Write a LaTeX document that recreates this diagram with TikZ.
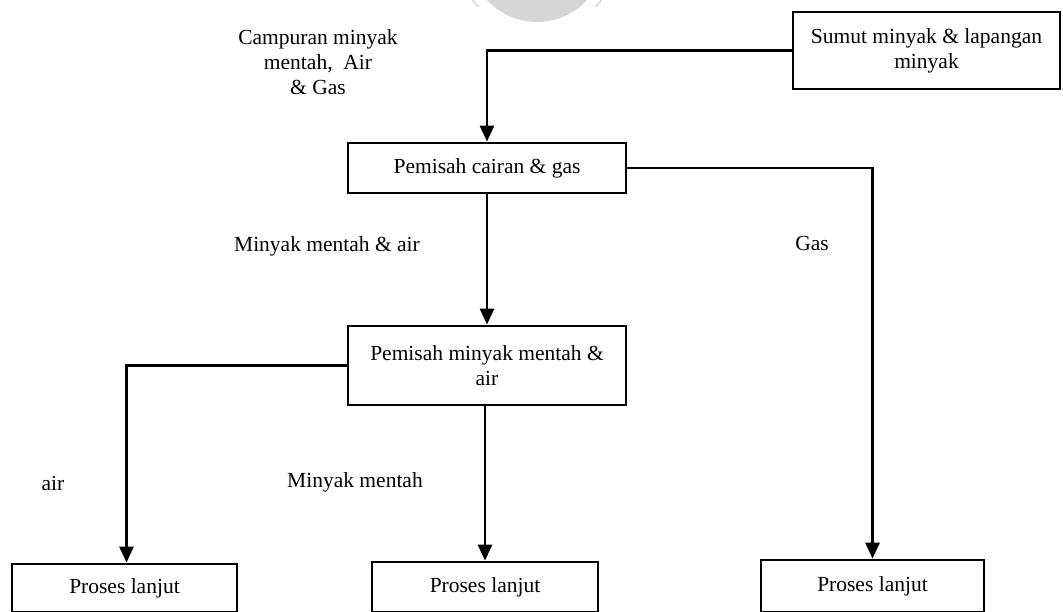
\documentclass[tikz,border=0pt]{standalone}
\usepackage{fontspec}
\setmainfont{Liberation Serif}
\usetikzlibrary{arrows.meta}
\begin{document}
\begin{tikzpicture}[x=1pt,y=-1pt,
  txt/.style={font=\fontsize{21.5}{25}\selectfont},
  box/.style={txt, draw=black, line width=2.8pt, inner sep=0pt, align=center},
  lbl/.style={txt, inner sep=0pt, align=center},
  flow/.style={line width=2.8pt, -{Triangle[length=16pt,width=14pt]}},
]
% page
\clip (0,0) rectangle (1063,612);
\fill[white] (0,0) rectangle (1063,612);

% faint emblem at the top edge
\fill[black!16] (537,-46) circle[radius=68];
\begin{scope}
  \clip (440,-1) rectangle (640,7);
  \draw[black!16, line width=1.5pt] (537,-46) circle[radius=79];
\end{scope}

% boxes
\node[box, minimum width=267pt, minimum height=77pt] (src) at (926.5,50.5)
  {Sumut minyak \& lapangan\\minyak};
\node[box, minimum width=278pt, minimum height=50pt] (sep1) at (487,168)
  {Pemisah cairan \& gas};
\node[box, minimum width=278pt, minimum height=79pt] (sep2) at (487,365.5)
  {Pemisah minyak mentah \&\\air};
\node[box, minimum width=225pt, minimum height=48pt] (out1) at (124.5,588)
  {Proses lanjut};
\node[box, minimum width=226pt, minimum height=50pt] (out2) at (485,587)
  {Proses lanjut};
\node[box, minimum width=223pt, minimum height=52pt] (out3) at (872.5,586)
  {Proses lanjut};

% labels
\node[lbl] (lmix) at (318,62) {Campuran minyak\\mentah,~ Air\\\& Gas};
\node[lbl] (lma) at (327,246) {Minyak mentah \& air};
\node[lbl] (lgas) at (812,243) {Gas};
\node[lbl] (lair) at (53,483) {air};
\node[lbl] (lmm) at (355,482) {Minyak mentah};

% connectors
\draw[flow] (src.west) -| (sep1.north);
\draw[flow] (sep1.south) -- (sep2.north);
\draw[flow] (sep1.east) -| (out3.north);
\draw[flow] (sep2.west) -| ([xshift=2pt]out1.north);
\draw[flow] (out2.north |- sep2.south) -- (out2.north);
\end{tikzpicture}
\end{document}
